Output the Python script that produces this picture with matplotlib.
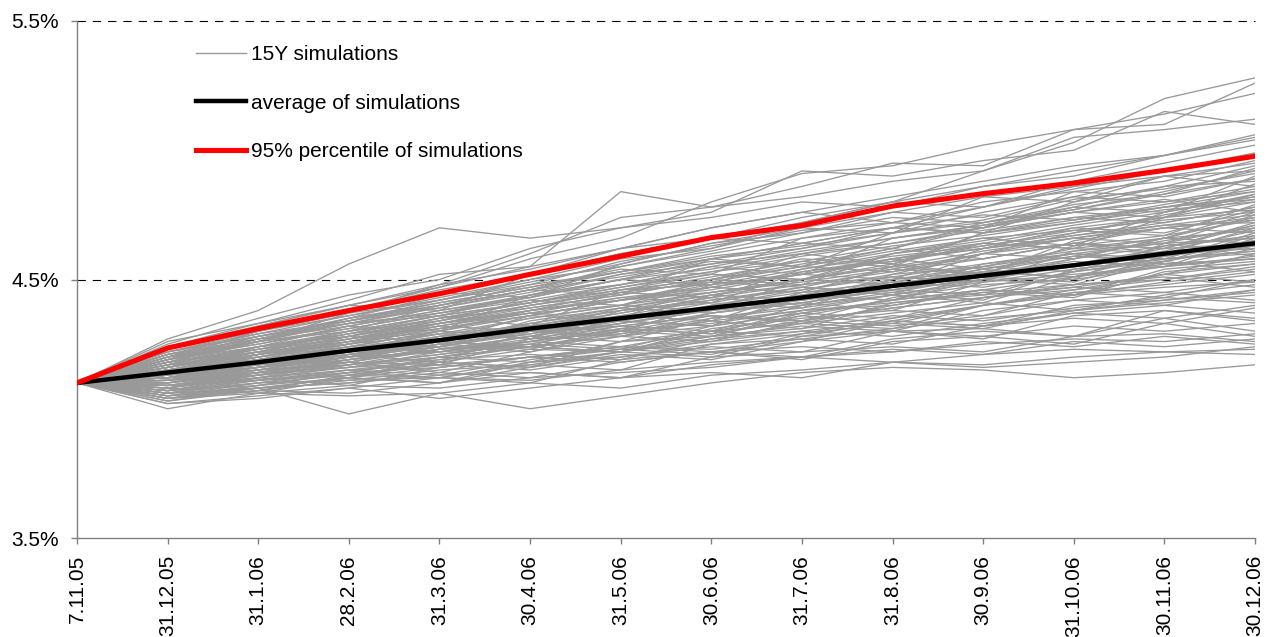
import matplotlib
matplotlib.use("Agg")
import matplotlib.pyplot as plt
from matplotlib.lines import Line2D

plt.rcParams['font.family'] = ['Liberation Sans', 'DejaVu Sans']
plt.rcParams['lines.scale_dashes'] = False

dates = ["7.11.05", "31.12.05", "31.1.06", "28.2.06", "31.3.06", "30.4.06", "31.5.06",
         "30.6.06", "31.7.06", "31.8.06", "30.9.06", "31.10.06", "30.11.06", "30.12.06"]

average = [4.10, 4.14, 4.18, 4.225, 4.265, 4.31, 4.35, 4.39, 4.43, 4.475, 4.515, 4.555, 4.60, 4.64]
pct95 = [4.10, 4.235, 4.31, 4.38, 4.445, 4.52, 4.59, 4.662, 4.709, 4.784, 4.832, 4.873, 4.922, 4.977]

simulations = [
    [4.10, 4.22, 4.28, 4.33, 4.40, 4.46, 4.55, 4.62, 4.72, 4.80, 4.92, 5.03, 5.20, 5.28],
    [4.10, 4.27, 4.38, 4.56, 4.70, 4.66, 4.70, 4.74, 4.80, 4.78, 4.86, 4.90, 4.98, 5.05],
    [4.10, 4.24, 4.33, 4.42, 4.52, 4.55, 4.84, 4.78, 4.82, 4.88, 4.92, 5.05, 5.08, 5.12],
    [4.10, 4.20, 4.30, 4.38, 4.47, 4.58, 4.66, 4.80, 4.91, 4.94, 5.02, 5.08, 5.14, 5.22],
    [4.10, 4.25, 4.35, 4.44, 4.50, 4.62, 4.70, 4.76, 4.92, 4.90, 4.96, 5.00, 5.15, 5.10],
    [4.10, 4.18, 4.26, 4.37, 4.48, 4.60, 4.74, 4.78, 4.86, 4.95, 4.94, 5.08, 5.10, 5.26],
    [4.10, 4.00, 4.06, 4.05, 4.06, 4.00, 4.05, 4.10, 4.14, 4.16, 4.15, 4.12, 4.14, 4.17],
    [4.10, 4.04, 4.08, 3.98, 4.06, 4.10, 4.08, 4.13, 4.15, 4.18, 4.17, 4.20, 4.22, 4.21],
    [4.10, 4.02, 4.05, 4.08, 4.04, 4.08, 4.12, 4.14, 4.12, 4.18, 4.16, 4.18, 4.20, 4.24],
    [4.10, 4.15, 4.20, 4.24, 4.30, 4.27, 4.38, 4.42, 4.47, 4.44, 4.56, 4.60, 4.58, 4.68],
    [4.10, 4.12, 4.15, 4.21, 4.18, 4.30, 4.32, 4.30, 4.40, 4.45, 4.42, 4.54, 4.58, 4.60],
    [4.10, 4.18, 4.24, 4.29, 4.36, 4.32, 4.46, 4.52, 4.50, 4.60, 4.66, 4.63, 4.76, 4.82],
    [4.10, 4.09, 4.14, 4.12, 4.20, 4.24, 4.22, 4.30, 4.36, 4.33, 4.40, 4.45, 4.43, 4.50],
    [4.10, 4.16, 4.22, 4.20, 4.28, 4.35, 4.40, 4.38, 4.50, 4.56, 4.52, 4.65, 4.70, 4.74],
    [4.10, 4.13, 4.17, 4.18, 4.24, 4.22, 4.30, 4.36, 4.33, 4.40, 4.46, 4.44, 4.52, 4.56],
    [4.10, 4.20, 4.25, 4.32, 4.30, 4.44, 4.48, 4.55, 4.52, 4.66, 4.70, 4.78, 4.76, 4.90],
    [4.10, 4.07, 4.10, 4.13, 4.12, 4.18, 4.22, 4.20, 4.28, 4.30, 4.27, 4.36, 4.38, 4.34],
    [4.10, 4.14, 4.19, 4.22, 4.26, 4.33, 4.30, 4.40, 4.42, 4.48, 4.54, 4.50, 4.64, 4.66],
    [4.10, 4.11, 4.16, 4.20, 4.25, 4.23, 4.31, 4.37, 4.41, 4.38, 4.49, 4.52, 4.55, 4.62],
    [4.10, 4.22, 4.28, 4.34, 4.40, 4.46, 4.44, 4.58, 4.62, 4.70, 4.68, 4.80, 4.86, 4.94],
    [4.10, 4.06, 4.08, 4.10, 4.14, 4.12, 4.18, 4.22, 4.19, 4.26, 4.28, 4.25, 4.33, 4.28],
    [4.10, 4.17, 4.21, 4.28, 4.26, 4.36, 4.42, 4.45, 4.50, 4.48, 4.60, 4.64, 4.62, 4.72],
    [4.10, 4.13, 4.18, 4.22, 4.28, 4.30, 4.34, 4.32, 4.44, 4.46, 4.50, 4.48, 4.57, 4.64],
    [4.10, 4.10, 4.14, 4.18, 4.17, 4.27, 4.29, 4.34, 4.31, 4.41, 4.44, 4.47, 4.52, 4.49],
    [4.10, 4.19, 4.26, 4.30, 4.34, 4.42, 4.40, 4.50, 4.58, 4.56, 4.68, 4.72, 4.78, 4.84],
    [4.10, 4.08, 4.13, 4.16, 4.18, 4.16, 4.26, 4.28, 4.32, 4.30, 4.38, 4.42, 4.45, 4.42],
    [4.10, 4.15, 4.18, 4.25, 4.29, 4.32, 4.37, 4.43, 4.40, 4.52, 4.55, 4.62, 4.60, 4.70],
    [4.10, 4.21, 4.27, 4.35, 4.41, 4.47, 4.54, 4.52, 4.66, 4.72, 4.70, 4.84, 4.88, 4.96],
    [4.10, 4.12, 4.16, 4.19, 4.23, 4.28, 4.26, 4.35, 4.39, 4.44, 4.41, 4.51, 4.56, 4.58],
    [4.10, 4.05, 4.09, 4.12, 4.10, 4.18, 4.20, 4.24, 4.22, 4.30, 4.31, 4.28, 4.38, 4.35],
    [4.10, 4.16, 4.23, 4.27, 4.31, 4.37, 4.35, 4.48, 4.52, 4.50, 4.62, 4.67, 4.72, 4.78],
    [4.10, 4.14, 4.16, 4.20, 4.26, 4.24, 4.36, 4.39, 4.44, 4.42, 4.52, 4.57, 4.55, 4.66],
    [4.10, 4.18, 4.22, 4.26, 4.30, 4.38, 4.43, 4.41, 4.53, 4.58, 4.64, 4.62, 4.74, 4.80],
    [4.10, 4.09, 4.11, 4.17, 4.20, 4.24, 4.22, 4.31, 4.35, 4.38, 4.36, 4.45, 4.48, 4.52],
    [4.10, 4.11, 4.14, 4.20, 4.22, 4.26, 4.30, 4.28, 4.37, 4.42, 4.46, 4.44, 4.54, 4.57],
    [4.10, 4.23, 4.30, 4.36, 4.42, 4.50, 4.58, 4.62, 4.70, 4.68, 4.82, 4.86, 4.92, 4.98],
    [4.10, 4.07, 4.11, 4.14, 4.19, 4.21, 4.19, 4.27, 4.30, 4.34, 4.32, 4.40, 4.42, 4.46],
    [4.10, 4.15, 4.20, 4.26, 4.24, 4.34, 4.39, 4.44, 4.48, 4.51, 4.49, 4.61, 4.66, 4.69],
    [4.10, 4.13, 4.17, 4.23, 4.27, 4.32, 4.30, 4.40, 4.45, 4.47, 4.53, 4.51, 4.60, 4.65],
    [4.10, 4.19, 4.24, 4.28, 4.35, 4.39, 4.44, 4.50, 4.48, 4.60, 4.64, 4.70, 4.68, 4.77],
    [4.10, 4.04, 4.07, 4.11, 4.12, 4.10, 4.19, 4.22, 4.20, 4.27, 4.30, 4.28, 4.35, 4.30],
    [4.10, 4.12, 4.18, 4.21, 4.26, 4.31, 4.34, 4.32, 4.43, 4.47, 4.51, 4.49, 4.59, 4.63],
    [4.10, 4.17, 4.20, 4.27, 4.33, 4.37, 4.40, 4.47, 4.45, 4.55, 4.61, 4.66, 4.64, 4.75],
    [4.10, 4.10, 4.15, 4.17, 4.21, 4.25, 4.23, 4.32, 4.37, 4.35, 4.43, 4.48, 4.50, 4.55],
    [4.10, 4.21, 4.26, 4.31, 4.37, 4.43, 4.50, 4.48, 4.60, 4.64, 4.70, 4.76, 4.74, 4.87],
    [4.10, 4.08, 4.12, 4.15, 4.17, 4.20, 4.23, 4.21, 4.29, 4.33, 4.31, 4.38, 4.41, 4.44],
    [4.10, 4.14, 4.19, 4.24, 4.27, 4.32, 4.38, 4.41, 4.39, 4.50, 4.53, 4.59, 4.57, 4.67],
    [4.10, 4.16, 4.21, 4.25, 4.32, 4.30, 4.39, 4.45, 4.49, 4.54, 4.52, 4.63, 4.67, 4.73],
    [4.10, 4.11, 4.13, 4.19, 4.23, 4.25, 4.31, 4.29, 4.38, 4.41, 4.45, 4.43, 4.53, 4.56],
    [4.10, 4.06, 4.10, 4.11, 4.15, 4.17, 4.15, 4.25, 4.27, 4.25, 4.32, 4.35, 4.33, 4.39],
    [4.10, 4.20, 4.26, 4.33, 4.36, 4.41, 4.48, 4.53, 4.57, 4.55, 4.68, 4.73, 4.79, 4.85],
    [4.10, 4.13, 4.17, 4.21, 4.25, 4.30, 4.28, 4.37, 4.41, 4.46, 4.44, 4.53, 4.58, 4.61],
    [4.10, 4.18, 4.23, 4.29, 4.33, 4.40, 4.45, 4.43, 4.54, 4.59, 4.63, 4.69, 4.67, 4.79],
    [4.10, 4.09, 4.14, 4.16, 4.20, 4.18, 4.26, 4.30, 4.33, 4.31, 4.40, 4.44, 4.47, 4.49],
    [4.10, 4.15, 4.19, 4.23, 4.28, 4.31, 4.36, 4.34, 4.45, 4.49, 4.55, 4.53, 4.63, 4.67],
    [4.10, 4.22, 4.29, 4.34, 4.39, 4.46, 4.51, 4.57, 4.55, 4.68, 4.73, 4.81, 4.85, 4.91],
    [4.10, 4.05, 4.08, 4.10, 4.13, 4.14, 4.12, 4.20, 4.22, 4.24, 4.22, 4.28, 4.29, 4.26],
    [4.10, 4.12, 4.15, 4.18, 4.23, 4.26, 4.32, 4.36, 4.34, 4.43, 4.48, 4.50, 4.55, 4.59],
    [4.10, 4.17, 4.22, 4.25, 4.31, 4.36, 4.34, 4.44, 4.50, 4.55, 4.58, 4.64, 4.62, 4.71],
    [4.10, 4.26, 4.33, 4.40, 4.38, 4.52, 4.60, 4.66, 4.74, 4.80, 4.78, 4.88, 4.95, 5.02],
    [4.10, 4.07, 4.12, 4.09, 4.16, 4.20, 4.24, 4.22, 4.26, 4.30, 4.28, 4.32, 4.30, 4.33],
    [4.10, 4.24, 4.31, 4.38, 4.45, 4.43, 4.56, 4.64, 4.68, 4.76, 4.82, 4.80, 4.90, 4.92],
    [4.10, 4.03, 4.07, 4.06, 4.10, 4.14, 4.12, 4.17, 4.20, 4.23, 4.21, 4.26, 4.24, 4.27],
    [4.10, 4.19, 4.27, 4.32, 4.38, 4.44, 4.52, 4.58, 4.64, 4.62, 4.72, 4.78, 4.86, 4.88],
    [4.10, 4.19, 4.30, 4.38, 4.46, 4.52, 4.60, 4.66, 4.64, 4.70, 4.68, 4.74, 4.72, 4.78],
    [4.10, 4.03, 4.08, 4.12, 4.10, 4.16, 4.21, 4.19, 4.26, 4.34, 4.40, 4.46, 4.52, 4.60],
    [4.10, 4.14, 4.24, 4.30, 4.40, 4.48, 4.53, 4.58, 4.55, 4.62, 4.58, 4.64, 4.60, 4.62],
    [4.10, 4.08, 4.06, 4.12, 4.18, 4.16, 4.22, 4.28, 4.36, 4.42, 4.50, 4.58, 4.66, 4.74],
    [4.10, 4.20, 4.28, 4.34, 4.42, 4.49, 4.56, 4.64, 4.70, 4.76, 4.74, 4.82, 4.90, 4.86],
    [4.10, 4.12, 4.11, 4.14, 4.16, 4.20, 4.18, 4.22, 4.24, 4.22, 4.26, 4.24, 4.28, 4.25],
    [4.10, 4.17, 4.26, 4.35, 4.44, 4.52, 4.62, 4.70, 4.76, 4.72, 4.80, 4.84, 4.82, 4.89],
    [4.10, 4.06, 4.12, 4.18, 4.14, 4.22, 4.28, 4.26, 4.34, 4.32, 4.36, 4.42, 4.40, 4.46],
    [4.10, 4.15, 4.22, 4.30, 4.36, 4.44, 4.50, 4.54, 4.60, 4.56, 4.64, 4.62, 4.66, 4.64],
    [4.10, 4.11, 4.18, 4.24, 4.22, 4.28, 4.34, 4.40, 4.46, 4.52, 4.60, 4.58, 4.66, 4.76],
    [4.10, 4.23, 4.32, 4.40, 4.48, 4.54, 4.62, 4.66, 4.72, 4.80, 4.86, 4.92, 4.98, 5.06],
    [4.10, 4.04, 4.06, 4.09, 4.08, 4.12, 4.14, 4.16, 4.20, 4.18, 4.21, 4.23, 4.22, 4.23],
    [4.10, 4.16, 4.24, 4.28, 4.34, 4.40, 4.46, 4.50, 4.56, 4.62, 4.70, 4.76, 4.80, 4.86],
    [4.10, 4.13, 4.16, 4.22, 4.30, 4.36, 4.42, 4.48, 4.52, 4.58, 4.54, 4.60, 4.56, 4.58],
    [4.10, 4.09, 4.13, 4.18, 4.24, 4.30, 4.28, 4.34, 4.38, 4.44, 4.50, 4.56, 4.62, 4.64],
    [4.10, 4.21, 4.29, 4.36, 4.43, 4.50, 4.55, 4.61, 4.68, 4.74, 4.72, 4.79, 4.83, 4.93],
    [4.10, 4.07, 4.09, 4.14, 4.20, 4.26, 4.24, 4.30, 4.28, 4.34, 4.32, 4.37, 4.35, 4.40],
    [4.10, 4.15, 4.21, 4.27, 4.32, 4.38, 4.45, 4.49, 4.47, 4.54, 4.60, 4.68, 4.75, 4.81],
    [4.10, 4.12, 4.19, 4.23, 4.29, 4.27, 4.33, 4.39, 4.43, 4.49, 4.47, 4.53, 4.57, 4.53],
    [4.10, 4.18, 4.27, 4.33, 4.39, 4.45, 4.52, 4.56, 4.62, 4.68, 4.76, 4.82, 4.80, 4.84],
    [4.10, 4.05, 4.10, 4.15, 4.13, 4.19, 4.23, 4.28, 4.31, 4.36, 4.34, 4.39, 4.43, 4.41],
    [4.10, 4.14, 4.20, 4.25, 4.33, 4.38, 4.42, 4.47, 4.53, 4.57, 4.62, 4.70, 4.74, 4.83],
    [4.10, 4.10, 4.16, 4.21, 4.27, 4.33, 4.39, 4.37, 4.42, 4.46, 4.52, 4.55, 4.60, 4.62],
    [4.10, 4.22, 4.30, 4.37, 4.42, 4.48, 4.57, 4.63, 4.69, 4.72, 4.78, 4.85, 4.92, 4.99],
    [4.10, 4.08, 4.14, 4.19, 4.22, 4.24, 4.30, 4.33, 4.38, 4.40, 4.45, 4.48, 4.51, 4.47],
    [4.10, 4.16, 4.22, 4.29, 4.35, 4.41, 4.47, 4.52, 4.50, 4.58, 4.62, 4.67, 4.71, 4.75],
    [4.10, 4.13, 4.17, 4.20, 4.26, 4.31, 4.37, 4.43, 4.48, 4.53, 4.58, 4.64, 4.70, 4.68],
    [4.10, 4.06, 4.11, 4.13, 4.18, 4.23, 4.22, 4.27, 4.33, 4.37, 4.41, 4.38, 4.44, 4.48],
    [4.10, 4.19, 4.25, 4.31, 4.37, 4.42, 4.48, 4.55, 4.61, 4.66, 4.71, 4.76, 4.81, 4.76],
    [4.10, 4.11, 4.14, 4.19, 4.25, 4.29, 4.35, 4.41, 4.47, 4.45, 4.51, 4.56, 4.61, 4.69],
    [4.10, 4.17, 4.24, 4.32, 4.38, 4.43, 4.50, 4.58, 4.64, 4.70, 4.75, 4.73, 4.78, 4.82],
    [4.10, 4.05, 4.07, 4.13, 4.17, 4.15, 4.20, 4.25, 4.29, 4.35, 4.40, 4.44, 4.49, 4.53],
    [4.10, 4.14, 4.18, 4.24, 4.30, 4.28, 4.36, 4.42, 4.46, 4.51, 4.56, 4.61, 4.64, 4.71],
    [4.10, 4.20, 4.26, 4.34, 4.41, 4.47, 4.53, 4.59, 4.63, 4.68, 4.72, 4.77, 4.84, 4.92],
    [4.10, 4.09, 4.12, 4.16, 4.22, 4.27, 4.32, 4.36, 4.34, 4.39, 4.43, 4.46, 4.50, 4.54],
    [4.10, 4.15, 4.21, 4.26, 4.33, 4.39, 4.44, 4.50, 4.55, 4.53, 4.60, 4.66, 4.70, 4.73],
    [4.10, 4.02, 4.04, 4.08, 4.12, 4.11, 4.15, 4.18, 4.20, 4.22, 4.25, 4.27, 4.26, 4.29],
    [4.10, 4.18, 4.23, 4.30, 4.36, 4.41, 4.47, 4.53, 4.59, 4.64, 4.69, 4.74, 4.78, 4.81],
    [4.10, 4.12, 4.17, 4.22, 4.27, 4.33, 4.38, 4.44, 4.42, 4.48, 4.54, 4.59, 4.65, 4.70],
    [4.10, 4.24, 4.32, 4.40, 4.47, 4.55, 4.62, 4.70, 4.76, 4.82, 4.88, 4.94, 4.98, 5.04],
    [4.10, 4.07, 4.13, 4.17, 4.21, 4.26, 4.31, 4.29, 4.34, 4.39, 4.43, 4.47, 4.45, 4.50],
    [4.10, 4.16, 4.21, 4.27, 4.34, 4.40, 4.45, 4.51, 4.57, 4.63, 4.67, 4.72, 4.77, 4.80],
    [4.10, 4.11, 4.15, 4.20, 4.26, 4.24, 4.29, 4.35, 4.40, 4.44, 4.49, 4.54, 4.58, 4.61],
    [4.10, 4.13, 4.20, 4.25, 4.31, 4.36, 4.42, 4.46, 4.52, 4.57, 4.63, 4.68, 4.74, 4.77],
    [4.10, 4.04, 4.09, 4.14, 4.12, 4.17, 4.22, 4.26, 4.30, 4.28, 4.33, 4.37, 4.40, 4.37],
    [4.10, 4.19, 4.28, 4.35, 4.40, 4.46, 4.53, 4.60, 4.66, 4.70, 4.78, 4.86, 4.90, 4.95],
    [4.10, 4.14, 4.19, 4.23, 4.29, 4.35, 4.40, 4.45, 4.50, 4.55, 4.52, 4.58, 4.63, 4.66],
    [4.10, 4.10, 4.13, 4.17, 4.23, 4.28, 4.33, 4.38, 4.43, 4.48, 4.53, 4.51, 4.57, 4.63],
    [4.10, 4.17, 4.22, 4.28, 4.35, 4.41, 4.46, 4.48, 4.54, 4.60, 4.65, 4.71, 4.76, 4.83],
    [4.10, 4.06, 4.08, 4.12, 4.16, 4.20, 4.24, 4.23, 4.27, 4.31, 4.35, 4.38, 4.42, 4.45],
    [4.10, 4.21, 4.27, 4.33, 4.37, 4.44, 4.50, 4.56, 4.60, 4.66, 4.71, 4.77, 4.83, 4.89],
    [4.10, 4.12, 4.16, 4.21, 4.24, 4.30, 4.34, 4.39, 4.44, 4.50, 4.55, 4.60, 4.64, 4.59],
    [4.10, 4.08, 4.15, 4.20, 4.24, 4.29, 4.33, 4.38, 4.41, 4.46, 4.50, 4.55, 4.59, 4.65],
    [4.10, 4.15, 4.19, 4.26, 4.32, 4.37, 4.43, 4.47, 4.52, 4.58, 4.62, 4.66, 4.71, 4.72],
    [4.10, 4.13, 4.21, 4.28, 4.33, 4.38, 4.42, 4.49, 4.55, 4.61, 4.66, 4.69, 4.73, 4.76],
    [4.10, 4.09, 4.11, 4.15, 4.19, 4.24, 4.28, 4.32, 4.37, 4.42, 4.46, 4.51, 4.55, 4.58],
]

fig = plt.figure(figsize=(12.66, 6.37), dpi=100)
ax = fig.add_axes([77 / 1266, 1 - 538 / 637, (1255 - 77) / 1266, (538 - 21) / 637])

x = list(range(len(dates)))

for s in simulations:
    ax.plot(x, s, color='#999999', lw=0.95, zorder=2)

ax.plot(x, average, color='black', lw=3.2, zorder=4)
ax.plot(x, pct95, color='#ff0000', lw=3.7, zorder=5)

for yv in (4.5, 5.5):
    ax.axhline(yv, color='black', lw=0.8, linestyle=(0, (6, 5)), zorder=1, clip_on=False)

ax.set_xlim(0, len(dates) - 1)
ax.set_ylim(3.5, 5.5)
ax.set_yticks([3.5, 4.5, 5.5])
ax.set_yticklabels(["3.5%", "4.5%", "5.5%"])
ax.set_xticks(x)
ax.set_xticklabels(dates, rotation=90, va='top', ha='center')

for side in ('top', 'right'):
    ax.spines[side].set_visible(False)
for side in ('left', 'bottom'):
    ax.spines[side].set_color('#808080')
    ax.spines[side].set_linewidth(1.0)

ax.tick_params(axis='both', direction='out', length=4.3, width=1.0, color='#808080',
               labelsize=15, labelcolor='black')
ax.tick_params(axis='x', pad=8)
ax.tick_params(axis='y', pad=8.6)

handles = [Line2D([], [], color='#999999', lw=1.0),
           Line2D([], [], color='black', lw=3.2),
           Line2D([], [], color='#ff0000', lw=3.7)]
labels = ["15Y simulations", "average of simulations", "95% percentile of simulations"]
ax.legend(handles, labels, loc='upper left', bbox_to_anchor=(196 / 1266, 1 - 45 / 637),
          bbox_transform=fig.transFigure, frameon=False, fontsize=15,
          handlelength=2.4, handletextpad=0.25, labelspacing=1.42, borderaxespad=0,
          borderpad=0)

fig.savefig("out.png", dpi=100)
